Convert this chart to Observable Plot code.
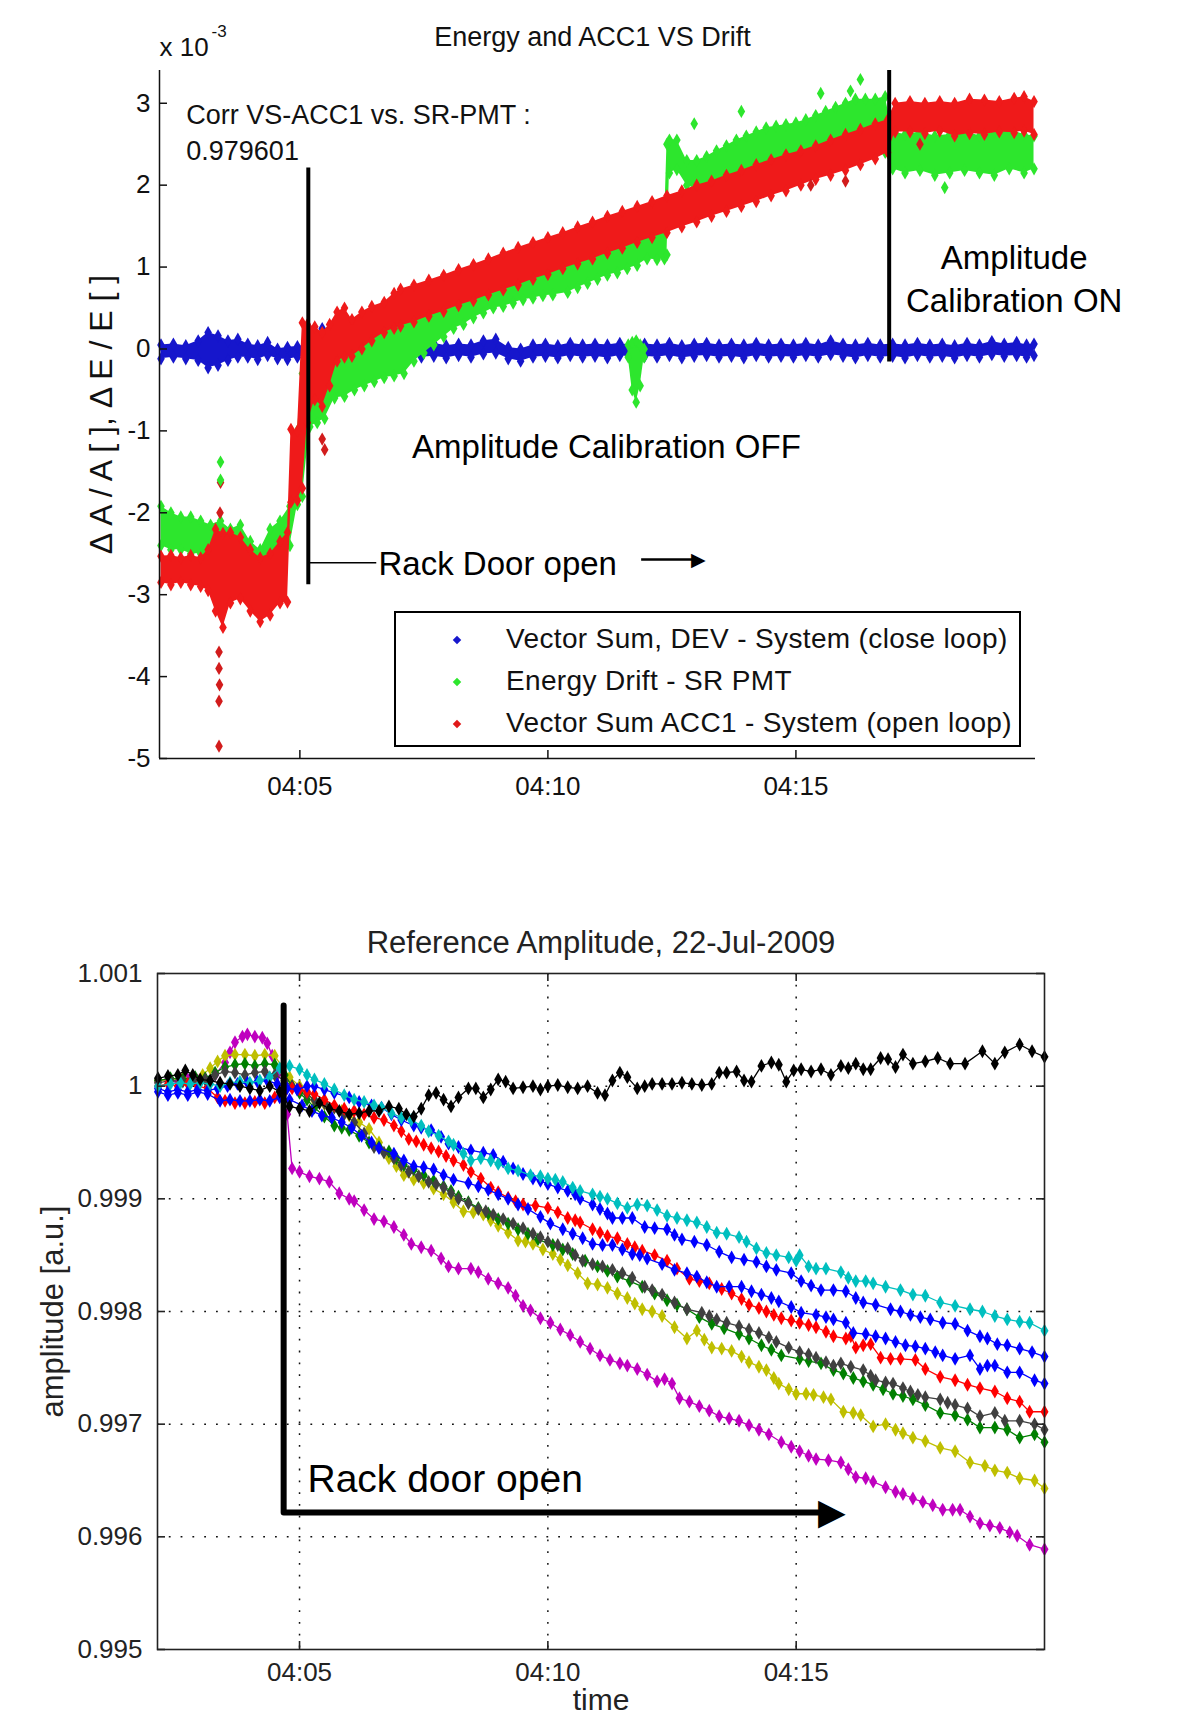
<!DOCTYPE html>
<html>
<head>
<meta charset="utf-8">
<script src="https://cdn.jsdelivr.net/npm/d3@7"></script>
<script src="https://cdn.jsdelivr.net/npm/@observablehq/plot@0.6"></script>
<style>
  body { margin:0; background:#fff; width:1179px; height:1718px; position:relative; overflow:hidden;
         font-family:"Liberation Sans", Arial, sans-serif; }
  #topChart { position:absolute; left:0; top:0; }
  #bottomChart { position:absolute; left:0; top:800px; }
  .legend { position:absolute; left:394px; top:611px; width:623px; height:132px; border:2.5px solid #000; background:#fff; }
  .legend .row { position:absolute; left:0; height:0; }
  .legend .mk { position:absolute; left:58px; width:6px; height:6px; transform:translateY(-3px) rotate(45deg); }
  .legend .tx { position:absolute; left:110px; top:0; transform:translateY(-52%); white-space:nowrap; font-size:28px; letter-spacing:0.35px; color:#111; }
</style>
</head>
<body>
<div id="topChart"></div>
<div id="bottomChart"></div>
<div class="legend" id="legend"></div>
<script>
// ---------------- shared axis data ----------------
const xTicksMin = [5, 10, 15];                 // minutes after 04:00
const xTickLabels = ["04:05", "04:10", "04:15"];
const topYTicks = [-5, -4, -3, -2, -1, 0, 1, 2, 3];
const bottomYTicks = [0.995, 0.996, 0.997, 0.998, 0.999, 1.000, 1.001];
const bottomYTickLabels = ["0.995", "0.996", "0.997", "0.998", "0.999", "1", "1.001"];

// ---------------- top chart: [minute, low, high] in units of 1e-3 ----------------
const vsDevBand = [[2.2,-0.12,0.05],[2.45,-0.1,0.06],[2.7,-0.12,0.04],[2.95,-0.14,0.1],[3.15,-0.23,0.2],[3.35,-0.2,0.16],[3.55,-0.14,0.1],[3.75,-0.1,0.12],[3.95,-0.1,0.06],[4.15,-0.13,0.04],[4.35,-0.08,0.08],[4.55,-0.12,0.0],[4.75,-0.13,0.02],[4.95,-0.1,0.03],[5.2,-0.08,0.05],[5.45,-0.05,0.25],[5.7,-0.08,0.05],[5.95,-0.1,0.06],[6.2,-0.1,0.04],[6.45,-0.08,0.07],[6.7,-0.11,0.04],[6.95,-0.09,0.06],[7.2,-0.08,0.08],[7.45,-0.1,0.05],[7.7,-0.09,0.07],[7.95,-0.11,0.04],[8.2,-0.08,0.06],[8.45,-0.1,0.05],[8.7,-0.06,0.1],[8.95,-0.05,0.12],[9.2,-0.12,0.02],[9.45,-0.15,0.0],[9.7,-0.1,0.05],[9.95,-0.09,0.06],[10.2,-0.11,0.04],[10.45,-0.08,0.07],[10.7,-0.1,0.05],[10.95,-0.09,0.06],[11.2,-0.11,0.05],[11.45,-0.08,0.07],[11.7,-0.1,0.04],[11.95,-0.09,0.06],[12.2,-0.1,0.05],[12.45,-0.08,0.07],[12.7,-0.11,0.04],[12.95,-0.09,0.06],[13.2,-0.08,0.07],[13.45,-0.1,0.05],[13.7,-0.09,0.06],[13.95,-0.11,0.05],[14.2,-0.08,0.07],[14.45,-0.1,0.05],[14.7,-0.09,0.06],[14.95,-0.1,0.05],[15.2,-0.08,0.07],[15.45,-0.1,0.05],[15.7,-0.07,0.1],[15.95,-0.09,0.06],[16.2,-0.11,0.05],[16.45,-0.08,0.07],[16.7,-0.1,0.05],[16.95,-0.09,0.06],[17.2,-0.11,0.05],[17.45,-0.08,0.07],[17.7,-0.1,0.05],[17.95,-0.09,0.06],[18.2,-0.11,0.04],[18.45,-0.08,0.07],[18.7,-0.1,0.05],[18.95,-0.07,0.09],[19.2,-0.09,0.06],[19.45,-0.08,0.08],[19.65,-0.1,0.05],[19.8,-0.08,0.06]];

const energyBand = [[2.2,-2.4,-1.92],[2.4,-2.45,-2.0],[2.6,-2.45,-2.05],[2.8,-2.5,-2.05],[3.0,-2.5,-2.1],[3.2,-2.55,-2.15],[3.4,-2.5,-2.1],[3.6,-2.5,-2.2],[3.8,-2.5,-2.15],[4.0,-2.7,-2.35],[4.2,-2.75,-2.45],[4.4,-2.5,-2.2],[4.6,-2.45,-2.1],[4.8,-2.4,-1.92],[4.95,-1.9,-1.0],[5.05,-1.8,-0.3],[5.2,-0.95,-0.1],[5.35,-0.9,-0.15],[5.5,-0.85,-0.1],[5.7,-0.6,0.1],[5.9,-0.58,0.1],[6.1,-0.5,0.12],[6.3,-0.45,0.2],[6.5,-0.4,0.3],[6.7,-0.35,0.38],[6.9,-0.33,0.3],[7.1,-0.3,0.4],[7.3,-0.15,0.5],[7.5,-0.05,0.6],[7.7,0.05,0.68],[7.9,0.15,0.75],[8.1,0.25,0.82],[8.3,0.3,0.9],[8.5,0.38,0.95],[8.7,0.44,1.0],[8.9,0.5,1.05],[9.1,0.52,1.08],[9.3,0.56,1.12],[9.5,0.6,1.18],[9.7,0.62,1.22],[9.9,0.65,1.26],[10.1,0.66,1.3],[10.4,0.69,1.33],[10.6,0.75,1.4],[10.8,0.8,1.45],[11.0,0.85,1.5],[11.2,0.9,1.55],[11.4,0.93,1.58],[11.6,0.98,1.62],[11.8,1.02,1.6],[12.0,1.1,1.6],[12.2,1.09,1.54],[12.35,1.1,1.5],[12.4,1.15,2.5],[12.45,2.15,2.55],[12.6,2.19,2.55],[12.8,2.0,2.3],[13.0,1.95,2.3],[13.2,1.97,2.35],[13.4,2.0,2.42],[13.6,2.05,2.48],[13.8,2.1,2.55],[14.0,2.15,2.6],[14.2,2.2,2.65],[14.4,2.23,2.7],[14.6,2.26,2.72],[14.8,2.28,2.74],[15.0,2.31,2.76],[15.2,2.35,2.8],[15.4,2.38,2.85],[15.6,2.42,2.9],[15.8,2.45,2.95],[16.0,2.48,3.0],[16.2,2.5,3.05],[16.4,2.52,3.05],[16.6,2.45,3.05],[16.8,2.4,3.08],[16.95,2.2,2.65],[17.2,2.15,2.62],[17.5,2.18,2.65],[17.8,2.12,2.6],[18.1,2.15,2.62],[18.4,2.18,2.66],[18.7,2.15,2.6],[19.0,2.12,2.65],[19.3,2.2,2.68],[19.6,2.15,2.62],[19.8,2.2,2.6]];

const energyDip = [[11.62,-0.1,0.05],[11.7,-0.5,0.08],[11.78,-0.65,0.1],[11.86,-0.45,0.05],[11.94,-0.1,0.0]];

const acc1Band = [[2.2,-2.85,-2.53],[2.4,-2.88,-2.52],[2.6,-2.85,-2.55],[2.8,-2.88,-2.52],[3.0,-2.9,-2.55],[3.15,-2.95,-2.45],[3.3,-3.2,-2.2],[3.45,-3.4,-2.25],[3.6,-3.1,-2.24],[3.8,-3.05,-2.3],[4.0,-3.2,-2.45],[4.2,-3.33,-2.55],[4.4,-3.25,-2.5],[4.6,-3.1,-2.35],[4.75,-3.09,-2.24],[4.82,-1.87,-0.98],[4.95,-1.85,-1.0],[5.05,-1.7,0.32],[5.15,-0.9,0.3],[5.3,-0.62,0.27],[5.45,-0.7,0.2],[5.6,-0.45,0.3],[5.75,-0.15,0.45],[5.9,-0.1,0.5],[6.05,-0.09,0.36],[6.25,0.0,0.45],[6.45,0.1,0.52],[6.7,0.2,0.57],[6.9,0.25,0.68],[7.03,0.28,0.73],[7.3,0.33,0.78],[7.6,0.4,0.84],[7.9,0.46,0.9],[8.2,0.53,0.97],[8.5,0.59,1.03],[8.8,0.66,1.1],[9.1,0.72,1.17],[9.4,0.78,1.24],[9.7,0.85,1.3],[10.0,0.91,1.36],[10.3,0.98,1.42],[10.6,1.04,1.49],[10.9,1.1,1.55],[11.2,1.17,1.62],[11.5,1.23,1.68],[11.8,1.3,1.74],[12.1,1.36,1.8],[12.4,1.42,1.87],[12.7,1.49,1.93],[13.0,1.55,2.0],[13.3,1.62,2.05],[13.6,1.68,2.12],[13.9,1.74,2.18],[14.2,1.8,2.25],[14.5,1.87,2.31],[14.8,1.93,2.37],[15.1,2.0,2.42],[15.4,2.07,2.48],[15.7,2.12,2.55],[16.0,2.18,2.62],[16.3,2.25,2.68],[16.6,2.32,2.75],[16.85,2.4,2.8],[17.0,2.65,3.0],[17.3,2.65,3.02],[17.6,2.63,3.0],[17.9,2.66,3.02],[18.2,2.6,3.0],[18.5,2.63,3.05],[18.8,2.62,3.04],[19.1,2.65,3.02],[19.4,2.64,3.06],[19.6,2.66,3.08],[19.8,2.62,3.02]];

const acc1Outliers = [[3.37,-3.7],[3.37,-3.9],[3.38,-4.1],[3.37,-4.3],[3.37,-4.85],[3.4,-1.63],[3.39,-2.0],[5.5,-1.23],[5.45,-1.1],[16.0,2.05],[15.3,2.0],[17.5,2.5]];
const energyOutliers = [[3.4,-1.38],[3.4,-1.6],[16.3,3.29],[16.1,3.15],[15.5,3.12],[13.9,2.9],[18.0,1.97],[12.95,2.75]];

// ---------------- bottom chart: [minute, deviation from 1 in units of 1e-3] ----------------
const ampBlack = [[2.15,0.07],[2.35,0.09],[2.55,0.1],[2.7,0.14],[2.85,0.1],[3.0,0.06],[3.2,0.05],[3.4,0.03],[3.6,0.02],[3.8,0.0],[4.0,-0.02],[4.2,-0.04],[4.4,0.0],[4.6,-0.05],[4.8,-0.18],[5.0,-0.2],[5.2,-0.22],[5.4,-0.15],[5.6,-0.2],[5.8,-0.22],[6.0,-0.25],[6.2,-0.24],[6.4,-0.22],[6.6,-0.22],[6.8,-0.18],[7.0,-0.2],[7.15,-0.25],[7.3,-0.27],[7.45,-0.2],[7.6,-0.08],[7.75,-0.06],[7.9,-0.12],[8.05,-0.18],[8.2,-0.1],[8.4,-0.02],[8.55,-0.02],[8.7,-0.1],[8.85,-0.03],[9.0,0.06],[9.15,0.04],[9.3,-0.02],[9.5,-0.01],[9.7,0.0],[9.85,-0.03],[10.0,0.0],[10.2,0.01],[10.4,-0.01],[10.6,-0.02],[10.8,0.0],[11.0,-0.06],[11.15,-0.08],[11.3,0.05],[11.45,0.12],[11.6,0.08],[11.8,-0.02],[11.95,0.0],[12.1,0.02],[12.3,0.02],[12.5,0.02],[12.7,0.03],[12.9,0.02],[13.1,0.01],[13.3,0.02],[13.45,0.12],[13.6,0.12],[13.8,0.13],[13.95,0.05],[14.1,0.04],[14.3,0.18],[14.5,0.21],[14.65,0.19],[14.8,0.04],[14.95,0.14],[15.1,0.15],[15.3,0.13],[15.5,0.15],[15.7,0.1],[15.9,0.18],[16.05,0.16],[16.2,0.2],[16.35,0.15],[16.5,0.15],[16.7,0.25],[16.85,0.24],[17.0,0.17],[17.15,0.28],[17.35,0.2],[17.6,0.22],[17.85,0.25],[18.1,0.2],[18.4,0.2],[18.75,0.31],[19.0,0.2],[19.2,0.3],[19.5,0.37],[19.75,0.31],[20.0,0.26]];

const ampCyan = [[2.15,0.0],[2.4,0.02],[2.6,0.03],[2.8,0.02],[3.0,0.03],[3.2,0.02],[3.4,0.0],[3.6,0.03],[3.8,0.04],[4.0,0.03],[4.2,0.05],[4.4,0.08],[4.6,0.16],[4.8,0.18],[5.0,0.15],[5.15,0.1],[5.3,0.06],[5.5,0.02],[5.7,-0.03],[5.9,-0.08],[6.1,-0.12],[6.3,-0.14],[6.5,-0.17],[6.65,-0.19],[6.85,-0.24],[7.05,-0.28],[7.25,-0.3],[7.45,-0.35],[7.6,-0.4],[7.8,-0.44],[8.0,-0.49],[8.1,-0.52],[8.3,-0.6],[8.45,-0.66],[8.65,-0.64],[8.85,-0.66],[9.0,-0.69],[9.2,-0.73],[9.4,-0.75],[9.65,-0.79],[9.85,-0.8],[10.0,-0.82],[10.15,-0.83],[10.3,-0.85],[10.5,-0.9],[10.65,-0.93],[10.9,-0.96],[11.05,-0.98],[11.2,-1.0],[11.4,-1.04],[11.6,-1.08],[11.8,-1.05],[12.0,-1.06],[12.2,-1.1],[12.4,-1.15],[12.6,-1.17],[12.8,-1.19],[13.0,-1.21],[13.2,-1.25],[13.4,-1.3],[13.6,-1.31],[13.85,-1.34],[14.0,-1.38],[14.2,-1.44],[14.4,-1.48],[14.6,-1.5],[14.85,-1.52],[15.0,-1.55],[15.07,-1.5],[15.25,-1.6],[15.4,-1.62],[15.6,-1.62],[15.9,-1.65],[16.05,-1.7],[16.2,-1.73],[16.4,-1.73],[16.55,-1.75],[16.8,-1.78],[17.1,-1.81],[17.35,-1.85],[17.6,-1.86],[17.9,-1.92],[18.2,-1.95],[18.5,-1.98],[18.75,-2.0],[19.0,-2.04],[19.25,-2.07],[19.5,-2.09],[19.7,-2.1],[20.0,-2.17]];

const ampBlueA = [[2.15,-0.02],[2.35,-0.05],[2.55,-0.03],[2.75,-0.05],[2.95,-0.03],[3.15,-0.04],[3.35,-0.02],[3.55,0.0],[3.75,0.02],[3.95,0.03],[4.15,0.04],[4.35,0.05],[4.55,0.02],[4.75,-0.02],[4.95,-0.03],[5.15,0.0],[5.3,0.0],[5.5,-0.03],[5.7,-0.06],[6.0,-0.1],[6.2,-0.14],[6.45,-0.17],[6.65,-0.19],[6.85,-0.25],[7.05,-0.3],[7.3,-0.35],[7.45,-0.37],[7.65,-0.39],[7.85,-0.45],[8.0,-0.51],[8.2,-0.54],[8.45,-0.57],[8.7,-0.59],[8.9,-0.61],[9.1,-0.67],[9.3,-0.73],[9.5,-0.78],[9.7,-0.82],[9.85,-0.84],[10.0,-0.87],[10.2,-0.9],[10.4,-0.93],[10.55,-0.96],[10.65,-1.0],[10.9,-1.05],[11.05,-1.09],[11.2,-1.13],[11.3,-1.17],[11.5,-1.17],[11.7,-1.17],[11.95,-1.25],[12.15,-1.26],[12.4,-1.27],[12.55,-1.32],[12.7,-1.36],[12.95,-1.38],[13.2,-1.41],[13.45,-1.47],[13.7,-1.52],[13.95,-1.54],[14.2,-1.56],[14.4,-1.6],[14.6,-1.63],[14.9,-1.66],[15.1,-1.73],[15.3,-1.77],[15.5,-1.81],[15.75,-1.81],[16.0,-1.82],[16.2,-1.88],[16.35,-1.92],[16.6,-1.94],[16.9,-1.98],[17.1,-2.0],[17.3,-2.03],[17.5,-2.05],[17.7,-2.07],[17.95,-2.1],[18.2,-2.11],[18.45,-2.17],[18.7,-2.22],[18.85,-2.24],[19.05,-2.29],[19.25,-2.3],[19.5,-2.33],[19.75,-2.36],[20.0,-2.4]];

const ampBlueB = [[2.15,-0.05],[2.35,-0.08],[2.55,-0.06],[2.75,-0.08],[2.95,-0.05],[3.15,-0.07],[3.4,-0.13],[3.6,-0.12],[3.8,-0.13],[4.0,-0.13],[4.2,-0.12],[4.4,-0.13],[4.6,-0.1],[4.8,-0.12],[5.05,-0.17],[5.25,-0.22],[5.45,-0.26],[5.65,-0.28],[5.85,-0.32],[6.05,-0.37],[6.25,-0.44],[6.45,-0.5],[6.6,-0.55],[6.9,-0.6],[7.1,-0.66],[7.3,-0.71],[7.5,-0.72],[7.7,-0.74],[7.9,-0.79],[8.1,-0.83],[8.4,-0.86],[8.6,-0.89],[8.8,-0.92],[9.0,-0.96],[9.2,-1.0],[9.4,-1.05],[9.6,-1.09],[9.85,-1.16],[10.05,-1.22],[10.3,-1.27],[10.5,-1.31],[10.7,-1.35],[10.9,-1.4],[11.1,-1.41],[11.3,-1.41],[11.5,-1.45],[11.7,-1.49],[11.85,-1.5],[12.0,-1.53],[12.3,-1.58],[12.55,-1.63],[12.8,-1.66],[13.0,-1.69],[13.2,-1.74],[13.4,-1.78],[13.65,-1.78],[13.9,-1.78],[14.1,-1.82],[14.3,-1.85],[14.5,-1.88],[14.65,-1.91],[14.9,-1.96],[15.1,-2.01],[15.4,-2.03],[15.6,-2.05],[15.75,-2.07],[16.0,-2.1],[16.15,-2.19],[16.4,-2.2],[16.6,-2.22],[16.8,-2.24],[17.0,-2.27],[17.2,-2.3],[17.4,-2.31],[17.6,-2.33],[17.8,-2.36],[17.95,-2.39],[18.2,-2.42],[18.5,-2.39],[18.7,-2.51],[18.85,-2.48],[19.0,-2.48],[19.25,-2.54],[19.5,-2.54],[19.8,-2.61],[20.0,-2.64]];

const ampRed = [[2.15,0.0],[2.35,0.02],[2.55,0.0],[2.75,0.02],[2.95,0.0],[3.15,-0.02],[3.35,-0.1],[3.5,-0.13],[3.7,-0.15],[3.9,-0.15],[4.1,-0.14],[4.3,-0.15],[4.5,-0.1],[4.7,-0.05],[4.85,-0.02],[5.0,-0.03],[5.15,-0.05],[5.3,-0.07],[5.5,-0.12],[5.7,-0.17],[5.9,-0.2],[6.1,-0.22],[6.3,-0.25],[6.5,-0.28],[6.7,-0.3],[6.9,-0.35],[7.05,-0.4],[7.2,-0.47],[7.35,-0.49],[7.5,-0.52],[7.65,-0.55],[7.8,-0.58],[7.95,-0.62],[8.1,-0.66],[8.3,-0.7],[8.45,-0.76],[8.65,-0.82],[8.85,-0.9],[9.0,-0.94],[9.2,-0.99],[9.35,-1.02],[9.5,-1.05],[9.75,-1.06],[10.0,-1.08],[10.2,-1.12],[10.4,-1.17],[10.55,-1.19],[10.65,-1.21],[10.9,-1.27],[11.05,-1.3],[11.2,-1.33],[11.4,-1.35],[11.6,-1.4],[11.75,-1.43],[11.9,-1.46],[12.15,-1.5],[12.4,-1.55],[12.6,-1.62],[12.85,-1.71],[13.05,-1.73],[13.25,-1.75],[13.5,-1.8],[13.7,-1.84],[13.9,-1.89],[14.05,-1.94],[14.25,-1.97],[14.4,-2.0],[14.55,-2.03],[14.7,-2.06],[14.9,-2.08],[15.07,-2.1],[15.25,-2.12],[15.4,-2.14],[15.6,-2.18],[15.75,-2.22],[16.0,-2.24],[16.1,-2.22],[16.2,-2.32],[16.35,-2.3],[16.5,-2.29],[16.7,-2.41],[16.9,-2.42],[17.1,-2.42],[17.4,-2.43],[17.6,-2.51],[17.9,-2.58],[18.2,-2.61],[18.45,-2.65],[18.7,-2.68],[19.0,-2.71],[19.25,-2.77],[19.5,-2.8],[19.7,-2.89],[20.0,-2.89]];

const ampGray = [[2.15,0.03],[2.4,0.05],[2.65,0.04],[2.9,0.05],[3.1,0.06],[3.3,0.1],[3.5,0.13],[3.7,0.12],[3.9,0.1],[4.1,0.12],[4.3,0.13],[4.5,0.1],[4.7,0.05],[4.85,0.0],[5.0,-0.02],[5.15,-0.07],[5.3,-0.12],[5.5,-0.15],[5.7,-0.19],[5.9,-0.25],[6.1,-0.32],[6.3,-0.42],[6.5,-0.54],[6.7,-0.59],[6.9,-0.64],[7.05,-0.7],[7.2,-0.76],[7.4,-0.8],[7.6,-0.85],[7.75,-0.87],[7.9,-0.9],[8.05,-0.95],[8.2,-1.0],[8.4,-1.04],[8.6,-1.09],[8.75,-1.11],[8.9,-1.14],[9.1,-1.18],[9.3,-1.22],[9.5,-1.26],[9.7,-1.31],[9.85,-1.34],[10.0,-1.38],[10.2,-1.41],[10.4,-1.44],[10.55,-1.5],[10.7,-1.55],[10.9,-1.58],[11.1,-1.6],[11.3,-1.63],[11.5,-1.66],[11.7,-1.7],[11.95,-1.78],[12.1,-1.81],[12.3,-1.85],[12.55,-1.92],[12.8,-1.98],[13.1,-2.01],[13.25,-2.04],[13.4,-2.07],[13.6,-2.1],[13.85,-2.13],[14.05,-2.16],[14.25,-2.19],[14.45,-2.23],[14.6,-2.27],[14.85,-2.32],[15.07,-2.36],[15.25,-2.38],[15.4,-2.41],[15.6,-2.45],[15.75,-2.48],[15.9,-2.46],[16.1,-2.49],[16.35,-2.52],[16.5,-2.57],[16.6,-2.61],[16.8,-2.63],[16.95,-2.64],[17.15,-2.68],[17.3,-2.71],[17.45,-2.74],[17.6,-2.76],[17.9,-2.78],[18.05,-2.81],[18.2,-2.83],[18.45,-2.86],[18.7,-2.93],[19.0,-2.9],[19.2,-2.97],[19.5,-2.97],[19.8,-3.0],[20.0,-3.05]];

const ampGreen = [[2.15,0.05],[2.4,0.07],[2.65,0.06],[2.9,0.08],[3.1,0.07],[3.3,0.12],[3.5,0.17],[3.7,0.19],[3.9,0.2],[4.1,0.18],[4.3,0.2],[4.5,0.19],[4.7,0.1],[4.85,0.0],[5.0,-0.06],[5.15,-0.12],[5.3,-0.19],[5.5,-0.27],[5.7,-0.35],[5.85,-0.37],[6.0,-0.39],[6.2,-0.44],[6.4,-0.5],[6.6,-0.54],[6.8,-0.58],[6.95,-0.64],[7.1,-0.7],[7.3,-0.74],[7.5,-0.79],[7.7,-0.84],[7.9,-0.89],[8.05,-0.93],[8.2,-0.98],[8.4,-1.03],[8.6,-1.08],[8.8,-1.13],[9.0,-1.18],[9.2,-1.22],[9.4,-1.27],[9.6,-1.31],[9.8,-1.36],[10.1,-1.41],[10.3,-1.45],[10.5,-1.49],[10.75,-1.55],[11.0,-1.6],[11.2,-1.64],[11.4,-1.69],[11.65,-1.73],[11.9,-1.78],[12.15,-1.84],[12.4,-1.9],[12.6,-1.94],[12.8,-1.98],[13.05,-2.05],[13.3,-2.11],[13.55,-2.15],[13.85,-2.2],[14.05,-2.24],[14.3,-2.3],[14.5,-2.34],[14.7,-2.39],[15.07,-2.42],[15.25,-2.44],[15.5,-2.46],[15.75,-2.52],[15.95,-2.55],[16.15,-2.59],[16.35,-2.62],[16.55,-2.65],[16.75,-2.69],[16.95,-2.73],[17.15,-2.75],[17.35,-2.78],[17.6,-2.83],[17.9,-2.9],[18.2,-2.92],[18.45,-2.96],[18.7,-3.03],[19.0,-3.03],[19.25,-3.05],[19.5,-3.12],[19.8,-3.09],[20.0,-3.16]];

const ampYellow = [[2.15,0.05],[2.4,0.06],[2.65,0.07],[2.9,0.06],[3.05,0.1],[3.2,0.16],[3.35,0.22],[3.5,0.27],[3.7,0.28],[3.9,0.28],[4.1,0.27],[4.3,0.28],[4.5,0.27],[4.65,0.17],[4.8,0.08],[5.0,0.0],[5.15,-0.07],[5.3,-0.13],[5.5,-0.16],[5.7,-0.19],[5.85,-0.22],[6.0,-0.26],[6.2,-0.32],[6.4,-0.38],[6.6,-0.5],[6.8,-0.64],[6.95,-0.71],[7.1,-0.79],[7.3,-0.83],[7.5,-0.86],[7.7,-0.91],[7.9,-0.96],[8.1,-1.03],[8.3,-1.11],[8.5,-1.12],[8.7,-1.14],[8.85,-1.19],[9.0,-1.24],[9.2,-1.3],[9.4,-1.37],[9.55,-1.38],[9.7,-1.4],[9.9,-1.45],[10.1,-1.49],[10.25,-1.54],[10.4,-1.59],[10.6,-1.66],[10.8,-1.75],[11.0,-1.76],[11.2,-1.79],[11.4,-1.84],[11.6,-1.88],[11.75,-1.93],[11.9,-1.98],[12.1,-2.0],[12.3,-2.04],[12.55,-2.14],[12.8,-2.24],[13.0,-2.17],[13.15,-2.25],[13.3,-2.32],[13.5,-2.33],[13.7,-2.35],[13.9,-2.4],[14.05,-2.45],[14.25,-2.49],[14.4,-2.52],[14.55,-2.59],[14.65,-2.64],[14.85,-2.69],[15.0,-2.73],[15.2,-2.73],[15.35,-2.74],[15.55,-2.76],[15.7,-2.78],[15.95,-2.89],[16.15,-2.9],[16.3,-2.92],[16.55,-3.02],[16.8,-3.0],[17.0,-3.05],[17.15,-3.08],[17.35,-3.12],[17.6,-3.15],[17.9,-3.21],[18.2,-3.24],[18.5,-3.34],[18.8,-3.37],[19.0,-3.41],[19.25,-3.43],[19.5,-3.48],[19.8,-3.5],[20.0,-3.57]];

const ampMagenta = [[2.15,0.05],[2.35,0.06],[2.55,0.04],[2.75,0.06],[2.95,0.05],[3.1,0.06],[3.3,0.1],[3.5,0.21],[3.6,0.3],[3.7,0.39],[3.85,0.44],[3.95,0.46],[4.1,0.44],[4.25,0.43],[4.35,0.38],[4.45,0.27],[4.55,0.1],[4.65,-0.1],[4.75,-0.25],[4.85,-0.73],[5.0,-0.76],[5.2,-0.8],[5.4,-0.82],[5.6,-0.85],[5.8,-0.95],[6.0,-1.0],[6.1,-1.02],[6.3,-1.1],[6.5,-1.18],[6.7,-1.2],[6.9,-1.25],[7.1,-1.32],[7.25,-1.4],[7.45,-1.43],[7.65,-1.46],[7.85,-1.53],[8.0,-1.6],[8.2,-1.62],[8.45,-1.62],[8.6,-1.65],[8.8,-1.71],[9.0,-1.75],[9.2,-1.79],[9.35,-1.86],[9.5,-1.95],[9.65,-1.99],[9.85,-2.06],[10.05,-2.1],[10.25,-2.16],[10.45,-2.21],[10.65,-2.27],[10.85,-2.33],[11.05,-2.39],[11.25,-2.43],[11.45,-2.46],[11.6,-2.48],[11.8,-2.51],[12.0,-2.56],[12.2,-2.62],[12.35,-2.6],[12.5,-2.64],[12.65,-2.77],[12.85,-2.8],[13.05,-2.84],[13.25,-2.88],[13.45,-2.93],[13.65,-2.95],[13.85,-2.97],[14.05,-3.01],[14.25,-3.05],[14.45,-3.09],[14.7,-3.16],[14.9,-3.2],[15.07,-3.24],[15.25,-3.28],[15.4,-3.31],[15.65,-3.32],[15.9,-3.34],[16.05,-3.4],[16.2,-3.47],[16.4,-3.48],[16.55,-3.51],[16.8,-3.56],[17.0,-3.6],[17.15,-3.62],[17.35,-3.66],[17.55,-3.69],[17.75,-3.72],[17.95,-3.76],[18.15,-3.76],[18.3,-3.76],[18.5,-3.82],[18.7,-3.88],[18.9,-3.9],[19.1,-3.92],[19.3,-3.96],[19.45,-3.99],[19.7,-4.07],[20.0,-4.11]];

const legendLabels = ["Vector Sum, DEV - System (close loop)", "Energy Drift - SR PMT", "Vector Sum ACC1 - System (open loop)"];

// ---------------- styles ----------------
const C_BLUE = "#1616cc", C_GREEN = "#2de62d", C_RED = "#ef1a1a";
const FONT = "'Liberation Sans', Arial, sans-serif";

// ---------------- top chart ----------------
const TOP = {width: 1179, height: 800, mt: 70, mb: 42, ml: 159, mr: 144, x: [2.17, 19.83], y: [-5, 3.4]};
const tPxX = (TOP.width - TOP.ml - TOP.mr) / (TOP.x[1] - TOP.x[0]);
const tPxY = (TOP.height - TOP.mt - TOP.mb) / (TOP.y[1] - TOP.y[0]);

function band(data, color) {
  return [
    Plot.areaY(data, {x: d => d[0], y1: d => d[1], y2: d => d[2], fill: color, curve: "linear"}),
    Plot.dot(data, {x: d => d[0], y: d => d[1], symbol: "diamond", r: 4, fill: color}),
    Plot.dot(data, {x: d => d[0], y: d => d[2], symbol: "diamond", r: 4, fill: color})
  ];
}
const fmtX = d => xTickLabels[xTicksMin.indexOf(d)];

const topPlot = Plot.plot({
  width: TOP.width, height: TOP.height,
  marginTop: TOP.mt, marginBottom: TOP.mb, marginLeft: TOP.ml, marginRight: TOP.mr,
  style: {fontFamily: FONT, background: "transparent", overflow: "visible", color: "#111"},
  x: {domain: TOP.x},
  y: {domain: TOP.y},
  marks: [
    ...band(vsDevBand, C_BLUE),
    ...band(energyBand, C_GREEN),
    ...band(energyDip, C_GREEN),
    ...band(acc1Band, C_RED),
    Plot.dot(acc1Outliers, {x: d => d[0], y: d => d[1], symbol: "diamond", r: 4, fill: "#d21c1c"}),
    Plot.dot(energyOutliers, {x: d => d[0], y: d => d[1], symbol: "diamond", r: 4, fill: C_GREEN}),
    // axes lines
    Plot.ruleX([TOP.x[0]], {y1: TOP.y[0], y2: TOP.y[1], stroke: "#111", strokeWidth: 1.5}),
    Plot.ruleY([TOP.y[0]], {x1: TOP.x[0], x2: TOP.x[1], stroke: "#111", strokeWidth: 1.5}),
    // inward ticks
    Plot.ruleY(topYTicks, {x1: TOP.x[0], x2: TOP.x[0] + 8 / tPxX, stroke: "#111", strokeWidth: 1.5}),
    Plot.ruleX(xTicksMin, {y1: TOP.y[0], y2: TOP.y[0] + 8 / tPxY, stroke: "#111", strokeWidth: 1.5}),
    Plot.axisY({ticks: topYTicks, tickSize: 0, tickPadding: 9, fontSize: 26, label: null, tickFormat: d => String(d)}),
    Plot.axisX({ticks: xTicksMin, tickSize: 0, tickPadding: 18, fontSize: 26, label: null, tickFormat: fmtX}),
    // annotation lines
    Plot.ruleX([5.17], {y1: -2.88, y2: 2.21, stroke: "#000", strokeWidth: 4}),
    Plot.ruleX([16.88], {y1: -0.16, y2: 3.4, stroke: "#000", strokeWidth: 4}),
    Plot.ruleY([-2.61], {x1: 5.17, x2: 6.55, stroke: "#000", strokeWidth: 1.5}),
    Plot.ruleY([-2.57], {x1: 11.89, x2: 12.95, stroke: "#000", strokeWidth: 2.5}),
    Plot.text(["\u25B6"], {x: 13.03, y: -2.57, fontSize: 19, fontFamily: "DejaVu Sans", fill: "#000"}),
    // titles & labels
    Plot.text(["Energy and ACC1 VS Drift"], {frameAnchor: "top", dy: -44, dx: -5, fontSize: 27, fill: "#111"}),
    Plot.text(["x 10"], {frameAnchor: "top-left", dy: -33, dx: 0, textAnchor: "start", fontSize: 26, fill: "#111"}),
    Plot.text(["-3"], {frameAnchor: "top-left", dy: -46, dx: 52, textAnchor: "start", fontSize: 17, fill: "#111"}),
    Plot.text(["\u0394 A / A [ ], \u0394 E / E [ ]"], {frameAnchor: "left", dx: -58, rotate: -90, textAnchor: "middle", fontSize: 32, fill: "#111"}),
    Plot.text(["Corr VS-ACC1 vs. SR-PMT :"], {x: 2.71, y: 2.85, textAnchor: "start", fontSize: 27, fill: "#111"}),
    Plot.text(["0.979601"], {x: 2.71, y: 2.41, textAnchor: "start", fontSize: 27, fill: "#111"}),
    Plot.text(["Amplitude Calibration OFF"], {x: 11.18, y: -1.2, fontSize: 33, fill: "#000"}),
    Plot.text(["Rack Door open"], {x: 6.585, y: -2.63, textAnchor: "start", fontSize: 33, fill: "#000"}),
    Plot.text(["Amplitude"], {x: 19.4, y: 1.11, fontSize: 33, fill: "#000"}),
    Plot.text(["Calibration ON"], {x: 19.4, y: 0.58, fontSize: 33, fill: "#000"})
  ]
});
document.getElementById("topChart").appendChild(topPlot);

// legend
const legendColors = [C_BLUE, C_GREEN, "#e01818"];
const legendRowsY = [27, 69, 111];
const leg = document.getElementById("legend");
legendLabels.forEach((lab, i) => {
  const row = document.createElement("div");
  row.className = "row";
  row.style.top = legendRowsY[i] + "px";
  row.innerHTML = `<div class="mk" style="background:${legendColors[i]}"></div><div class="tx">${lab}</div>`;
  leg.appendChild(row);
});

// ---------------- bottom chart ----------------
const BOT = {width: 1179, height: 918, mt: 173, mb: 69, ml: 157, mr: 135, x: [2.14, 20.0], y: [0.995, 1.001]};
const bPxX = (BOT.width - BOT.ml - BOT.mr) / (BOT.x[1] - BOT.x[0]);
const bPxY = (BOT.height - BOT.mt - BOT.mb) / (BOT.y[1] - BOT.y[0]);

const series = [
  {data: ampMagenta, color: "#bf00bf"},
  {data: ampYellow, color: "#bfbf00"},
  {data: ampGreen, color: "#008000"},
  {data: ampGray, color: "#404040"},
  {data: ampRed, color: "#ff0000"},
  {data: ampBlueB, color: "#0000ff"},
  {data: ampBlueA, color: "#0000ff"},
  {data: ampCyan, color: "#00bfbf"},
  {data: ampBlack, color: "#000000"}
];
const toAmp = d => 1 + d[1] / 1000;
const fmtYb = d => bottomYTickLabels[bottomYTicks.findIndex(v => Math.abs(v - d) < 1e-9)];

const bottomPlot = Plot.plot({
  width: BOT.width, height: BOT.height,
  marginTop: BOT.mt, marginBottom: BOT.mb, marginLeft: BOT.ml, marginRight: BOT.mr,
  style: {fontFamily: FONT, background: "transparent", overflow: "visible", color: "#222"},
  x: {domain: BOT.x},
  y: {domain: BOT.y},
  marks: [
    Plot.ruleY(bottomYTicks.slice(1, -1), {stroke: "#111", strokeWidth: 1.5, strokeDasharray: "1.8,10"}),
    Plot.ruleX(xTicksMin, {stroke: "#111", strokeWidth: 1.5, strokeDasharray: "1.8,10"}),
    ...series.flatMap(s => [
      Plot.line(s.data, {x: d => d[0], y: toAmp, stroke: s.color, strokeWidth: 1.3}),
      Plot.dot(s.data, {x: d => d[0], y: toAmp, symbol: "diamond", r: 4.2, fill: s.color})
    ]),
    Plot.frame({stroke: "#222", strokeWidth: 1.6}),
    Plot.ruleY(bottomYTicks, {x1: BOT.x[0], x2: BOT.x[0] + 8 / bPxX, stroke: "#222", strokeWidth: 1.6}),
    Plot.ruleY(bottomYTicks, {x1: BOT.x[1] - 8 / bPxX, x2: BOT.x[1], stroke: "#222", strokeWidth: 1.6}),
    Plot.ruleX(xTicksMin, {y1: BOT.y[0], y2: BOT.y[0] + 8 / bPxY, stroke: "#222", strokeWidth: 1.6}),
    Plot.ruleX(xTicksMin, {y1: BOT.y[1] - 8 / bPxY, y2: BOT.y[1], stroke: "#222", strokeWidth: 1.6}),
    Plot.axisY({ticks: bottomYTicks, tickSize: 0, tickPadding: 15, fontSize: 26, label: null, tickFormat: fmtYb}),
    Plot.axisX({ticks: xTicksMin, tickSize: 0, tickPadding: 13, fontSize: 26, label: null, tickFormat: fmtX}),
    // rack door annotation
    Plot.line([[4.68, 1.000716], [4.68, 0.996217], [15.45, 0.996217]], {x: d => d[0], y: d => d[1], stroke: "#000", strokeWidth: 6}),
    Plot.text(["\u25B6"], {x: 15.72, y: 0.996217, fontSize: 36, fontFamily: "DejaVu Sans", fill: "#000"}),
    Plot.text(["Rack door open"], {x: 5.16, y: 0.996509, textAnchor: "start", fontSize: 39, fill: "#000"}),
    // titles
    Plot.text(["Reference Amplitude, 22-Jul-2009"], {frameAnchor: "top", dy: -43, fontSize: 31, fill: "#222"}),
    Plot.text(["time"], {frameAnchor: "bottom", dy: 60, fontSize: 30, fill: "#222"}),
    Plot.text(["amplitude [a.u.]"], {frameAnchor: "left", dx: -104, rotate: -90, textAnchor: "middle", fontSize: 31, fill: "#222"})
  ]
});
document.getElementById("bottomChart").appendChild(bottomPlot);
</script>
</body>
</html>
